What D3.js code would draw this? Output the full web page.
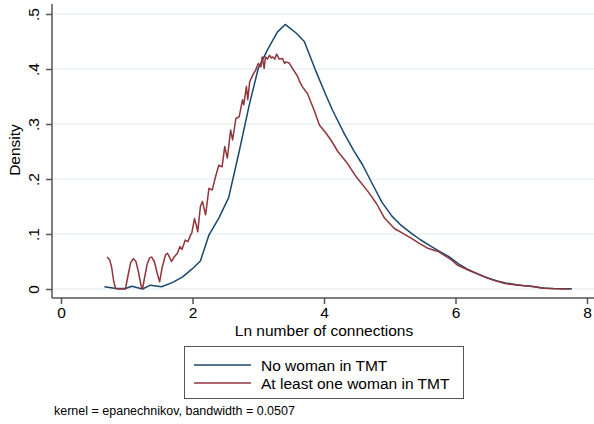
<!DOCTYPE html>
<html>
<head>
<meta charset="utf-8">
<script src="https://cdn.jsdelivr.net/npm/d3@7"></script>
<style>
  body { margin: 0; background: #fff; }
  svg { display: block; font-family: "Liberation Sans", Arial, Helvetica, sans-serif; }
</style>
</head>
<body>
<div id="chart"></div>
<script>
// kdensity of ln(connections), split by whether the TMT has a woman
const noWomanX = [0.66, 0.84, 0.98, 1.08, 1.24, 1.36, 1.53, 1.70, 1.85, 1.99, 2.12, 2.25, 2.40, 2.55, 2.71, 2.86, 3.00, 3.15, 3.29, 3.41, 3.58, 3.70, 3.87, 4.02, 4.13, 4.31, 4.45, 4.59, 4.74, 4.88, 5.03, 5.17, 5.32, 5.46, 5.61, 5.75, 5.90, 6.04, 6.18, 6.33, 6.47, 6.62, 6.76, 6.91, 7.05, 7.20, 7.34, 7.49, 7.63, 7.77];
const noWomanY = [0.004, 0.001, 0.001, 0.005, 0.000, 0.007, 0.004, 0.012, 0.022, 0.036, 0.051, 0.098, 0.129, 0.166, 0.250, 0.333, 0.401, 0.437, 0.467, 0.481, 0.465, 0.450, 0.398, 0.355, 0.325, 0.282, 0.252, 0.225, 0.190, 0.158, 0.133, 0.116, 0.102, 0.090, 0.079, 0.069, 0.059, 0.046, 0.036, 0.028, 0.021, 0.015, 0.011, 0.008, 0.006, 0.004, 0.002, 0.001, 0.0005, 0.0003];

const womanX = [0.70, 0.74, 0.77, 0.80, 0.83, 0.88, 0.98, 1.02, 1.06, 1.10, 1.14, 1.18, 1.22, 1.24, 1.27, 1.31, 1.35, 1.38, 1.42, 1.46, 1.50, 1.54, 1.59, 1.62, 1.65, 1.68, 1.72, 1.77, 1.81, 1.84, 1.89, 1.93, 1.97, 1.99, 2.03, 2.06, 2.08, 2.12, 2.15, 2.20, 2.25, 2.30, 2.35, 2.40, 2.45, 2.49, 2.53, 2.58, 2.61, 2.66, 2.71, 2.76, 2.78, 2.82, 2.84, 2.87, 2.93, 2.96, 3.00, 3.04, 3.06, 3.09, 3.11, 3.14, 3.17, 3.20, 3.22, 3.25, 3.28, 3.32, 3.37, 3.40, 3.42, 3.47, 3.52, 3.56, 3.60, 3.63, 3.67, 3.75, 3.85, 3.93, 4.02, 4.11, 4.21, 4.34, 4.49, 4.67, 4.80, 4.92, 5.07, 5.20, 5.33, 5.45, 5.58, 5.66, 5.74, 5.94, 6.02, 6.20, 6.40, 6.55, 6.75, 6.95, 7.16, 7.30, 7.41, 7.55, 7.74];
const womanY = [0.058, 0.053, 0.040, 0.015, 0.001, 0.000, 0.000, 0.025, 0.048, 0.055, 0.050, 0.030, 0.005, 0.000, 0.020, 0.045, 0.057, 0.058, 0.050, 0.030, 0.013, 0.040, 0.062, 0.065, 0.058, 0.050, 0.058, 0.065, 0.077, 0.072, 0.089, 0.086, 0.098, 0.102, 0.128, 0.115, 0.104, 0.150, 0.159, 0.135, 0.183, 0.180, 0.204, 0.225, 0.222, 0.259, 0.238, 0.289, 0.271, 0.310, 0.313, 0.344, 0.335, 0.368, 0.344, 0.377, 0.392, 0.398, 0.410, 0.404, 0.422, 0.401, 0.422, 0.418, 0.425, 0.420, 0.422, 0.418, 0.427, 0.418, 0.419, 0.410, 0.413, 0.411, 0.401, 0.394, 0.386, 0.377, 0.368, 0.355, 0.325, 0.298, 0.285, 0.270, 0.250, 0.231, 0.204, 0.177, 0.155, 0.129, 0.110, 0.101, 0.092, 0.083, 0.074, 0.071, 0.068, 0.053, 0.044, 0.034, 0.024, 0.017, 0.010, 0.007, 0.005, 0.002, 0.001, 0.0003, 0.000];

const xTicks = [0, 2, 4, 6, 8];
const yTicks = [0, 0.1, 0.2, 0.3, 0.4, 0.5];
const yTickLabels = ['0', '.1', '.2', '.3', '.4', '.5'];
const seriesNames = ['No woman in TMT', 'At least one woman in TMT'];
const seriesColors = ['#1a476f', '#90353b'];

const width = 594;
const height = 424;
const plot = {left: 52, right: 594, top: 4, bottom: 298};

const svg = d3.select('#chart')
    .append('svg')
    .attr('width', width)
    .attr('height', height);

const x = d3.scaleLinear()
    .domain([0, 8])
    .range([61, 587]);

const y = d3.scaleLinear()
    .domain([0, 0.5])
    .range([289, 14]);

// gridlines
svg.append('g')
    .selectAll('line')
    .data(yTicks)
    .enter().append('line')
    .attr('x1', plot.left)
    .attr('x2', plot.right)
    .attr('y1', d => y(d))
    .attr('y2', d => y(d))
    .attr('stroke', '#eaf2f3')
    .attr('stroke-width', 1.5);

// curves
const line = d3.line()
    .x(d => x(d[0]))
    .y(d => y(d[1]));

const series = [
    d3.zip(noWomanX, noWomanY),
    d3.zip(womanX, womanY)
];

series.forEach((pts, i) => {
    svg.append('path')
        .datum(pts)
        .attr('fill', 'none')
        .attr('stroke', seriesColors[i])
        .attr('stroke-width', 1.5)
        .attr('stroke-linejoin', 'round')
        .attr('d', line);
});

// y axis
const yAxis = svg.append('g')
    .attr('transform', `translate(${plot.left},0)`)
    .call(d3.axisLeft(y)
        .tickValues(yTicks)
        .tickFormat((d, i) => yTickLabels[i])
        .tickSize(6)
        .tickSizeOuter(0));
yAxis.select('.domain')
    .attr('d', `M0,${plot.top}V${plot.bottom}`);
yAxis.selectAll('text')
    .attr('transform', 'rotate(-90)')
    .attr('x', 0)
    .attr('y', -13)
    .attr('dy', 0)
    .attr('text-anchor', 'middle');

// x axis
const xAxis = svg.append('g')
    .attr('transform', `translate(0,${plot.bottom})`)
    .call(d3.axisBottom(x)
        .tickValues(xTicks)
        .tickFormat(d3.format('d'))
        .tickSize(6)
        .tickSizeOuter(0));
xAxis.select('.domain')
    .attr('d', `M${plot.left},0H${plot.right}`);
xAxis.selectAll('text')
    .attr('y', 19.5)
    .attr('dy', 0);

svg.selectAll('.domain, .tick line')
    .attr('stroke', '#555')
    .attr('stroke-width', 1.5);
svg.selectAll('.tick text')
    .attr('fill', '#000')
    .style('font-size', '15.5px')
    .style('font-family', '"Liberation Sans", Arial, sans-serif');

// axis titles
svg.append('text')
    .attr('transform', 'translate(20,150) rotate(-90)')
    .attr('text-anchor', 'middle')
    .style('font-size', '15.5px')
    .text('Density');

svg.append('text')
    .attr('x', (x(0) + x(8)) / 2)
    .attr('y', 336)
    .attr('text-anchor', 'middle')
    .style('font-size', '15.5px')
    .text('Ln number of connections');

// legend
const legend = svg.append('g');
legend.append('rect')
    .attr('x', 184.5)
    .attr('y', 346.5)
    .attr('width', 279)
    .attr('height', 52)
    .attr('fill', '#fff')
    .attr('stroke', '#555')
    .attr('stroke-width', 1);

seriesNames.forEach((name, i) => {
    const ly = 365 + i * 18;
    legend.append('line')
        .attr('x1', 194)
        .attr('x2', 251)
        .attr('y1', ly)
        .attr('y2', ly)
        .attr('stroke', seriesColors[i])
        .attr('stroke-width', 1.5);
    legend.append('text')
        .attr('x', 261)
        .attr('y', ly + 5.5)
        .style('font-size', '15.5px')
        .text(name);
});

// note
svg.append('text')
    .attr('x', 54)
    .attr('y', 415)
    .style('font-size', '12.5px')
    .text('kernel = epanechnikov, bandwidth = 0.0507');
</script>
</body>
</html>
